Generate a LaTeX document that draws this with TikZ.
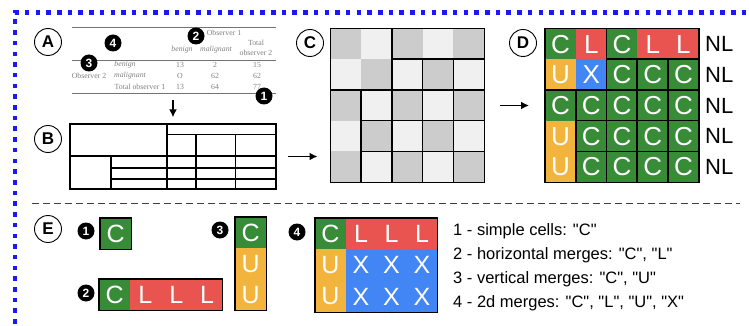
\documentclass[tikz,border=0pt]{standalone}
\usepackage{fontspec}
\setmainfont{Liberation Serif}
\setsansfont{Liberation Sans}
\newfontfamily\legendfont{Liberation Sans}
\usetikzlibrary{positioning,arrows.meta,calc}
\tikzset{>={Latex[length=8pt,width=8pt]}}

\definecolor{cgreen}{RGB}{57,140,55}
\definecolor{cred}{RGB}{234,84,80}
\definecolor{cyellow}{RGB}{243,180,61}
\definecolor{cblue}{RGB}{66,133,244}
\definecolor{framecol}{RGB}{25,25,245}
\colorlet{colC}{cgreen}
\colorlet{colL}{cred}
\colorlet{colU}{cyellow}
\colorlet{colX}{cblue}

\tikzset{
  panel/.style={circle, draw, line width=0.9pt, inner sep=0pt, minimum size=27pt,
    font=\sffamily\bfseries\fontsize{17}{17}\selectfont},
  num/.style={circle, fill=black, text=white, inner sep=0pt, minimum size=17pt,
    font=\sffamily\bfseries\fontsize{12}{12}\selectfont},
  paint/.style={fill=#1, draw=#1},
  dcell/.style={anchor=north west, minimum size=30.72pt, inner sep=0pt, line width=0.4pt,
    text=white, font=\sffamily\fontsize{26}{26}\selectfont},
  ecell/.style={dcell, minimum size=31pt, font=\sffamily\fontsize{25}{25}\selectfont},
  gridline/.style={line width=1.6pt},
  boxline/.style={line width=1.2pt},
  tabtxt/.style={text=black!50, inner sep=0pt, font=\fontsize{7.8}{10}\selectfont},
  tabit/.style={tabtxt, font=\fontsize{7.8}{10}\selectfont\itshape},
  nl/.style={inner sep=0pt, font=\sffamily\fontsize{22}{22}\selectfont},
  legend/.style={anchor=base west, inner sep=0pt, font=\legendfont\fontsize{16.5}{16.5}\selectfont},
  flow/.style={->, line width=1.8pt},
}

% borders of the merged cells, same for grid C and grid D
\newcommand\mergelines[1]{
  \draw[gridline] (#1-0-2.north west) -- (#1-4-2.south west)
    (#1-1-2.north west) -- (#1-1-4.north east)
    (#1-1-3.north west) -- (#1-4-3.south west)
    (#1-1-4.north west) -- (#1-4-4.south west)
    (#1-2-0.north west) -- (#1-2-4.north east)
    (#1-2-1.north west) -- (#1-4-1.south west)
    (#1-3-1.north west) -- (#1-3-4.north east)
    (#1-4-1.north west) -- (#1-4-4.north east);
  \draw[gridline] (#1-0-0.north west) rectangle (#1-4-4.south east);
}

\begin{document}
\begin{tikzpicture}[x=1pt, y=-1pt]
\useasboundingbox (0,0) rectangle (749,326);
\draw[framecol, line width=4.5pt, dash pattern=on 4.5pt off 6.2pt] (15,345) -- (15,12.5) -- (765,12.5); %frame

% A: the source table
\node[panel] (labA) at (48,42) {A};
\node (tabA) [minimum width=204pt, minimum height=65pt, inner sep=0pt] at (174,60.5) {};
\draw[black!55, line width=1.2pt] (tabA.north west) -- (tabA.north east)
  (tabA.west) -- (tabA.east)
  (tabA.south west) -- (tabA.south east);
\node[tabtxt] (obs1) at (224,33) {Observer 1};
\node[tabit] (hben) at (182,50) {benign};
\node[tabit] (hmal) at (216,50) {malignant};
\node[tabtxt, align=center] (htot) at (256,48) {Total\\observer 2};
\node[tabit] (r1lab) at (125,65) {benign};
\node[tabtxt] (obs2) at (89,76) {Observer 2};
\node[tabit] (r2lab) at (130,76) {malignant};
\node[tabtxt] (r3lab) at (140,87) {Total observer 1};
\foreach \a/\b/\c [count=\r] in {13/2/15, O/62/62, 13/64/77} {
  \node[tabtxt] (v-\r-1) at (180,54+11*\r) {\a};
  \node[tabtxt] (v-\r-2) at (215,54+11*\r) {\b};
  \node[tabtxt] (v-\r-3) at (257,54+11*\r) {\c};
}
\node[num] (n2) at (196,36) {2};
\node[num] (n4) at (113,43) {4};
\node[num] (n3) at (89,63) {3};
\node[num] (n1) at (264,96) {1};

% B: the table structure
\node[panel] (labB) at (48,139) {B};
\node (tabB) [draw, line width=1.3pt, minimum width=206pt, minimum height=65pt, inner sep=0pt] at (173,156.5) {};
\draw[line width=1.3pt] (167,124) -- (167,189)
  (70,156) -- (276,156)
  (167,134.5) -- (276,134.5)
  (196,134.5) -- (196,189)
  (235.5,134.5) -- (235.5,189)
  (111,156) -- (111,189)
  (111,168) -- (276,168)
  (111,179) -- (276,179);
\draw[flow, shorten <=7pt, shorten >=6pt] (tabA.south -| tabB.north) -- (tabB.north);

% C: the grid
\node[panel] (labC) at (310,43) {C};
\node (gridC) [minimum size=153.6pt, inner sep=0pt] at (407.5,105.5) {};
\foreach \i in {0,...,4} \foreach \j in {0,...,4} {
  \pgfmathtruncatemacro\tone{mod(\i+\j,2)==0 ? 20 : 6}
  \node[dcell, paint=black!\tone] (c-\i-\j) at ($(gridC.north west)+(\j*30.72,\i*30.72)$) {};
}
\mergelines{c}
\draw[flow, shorten <=11pt, shorten >=13pt] (tabB.east) -- (tabB.east -| gridC.west);

% D: the labelled grid
\node[panel] (labD) at (523,43) {D};
\node (gridD) [minimum size=153.6pt, inner sep=0pt] at (622,105.5) {};
\foreach \row [count=\i from 0] in {{C,L,C,L,L},{U,X,C,C,C},{C,C,C,C,C},{U,C,C,C,C},{U,C,C,C,C}} {
  \foreach \l [count=\j from 0] in \row
    \node[dcell, paint=col\l] (d-\i-\j) at ($(gridD.north west)+(\j*30.72,\i*30.72)$) {\l};
  \node[nl, right=6pt of d-\i-4] (nl-\i) {NL};
}
\mergelines{d}
\draw[flow, shorten <=15pt, shorten >=16pt] (gridC.east) -- (gridD.west);

\coordinate (sepL) at (32,203);
\coordinate (sepR) at (740,203);
\draw[black!75, line width=0.9pt, dash pattern=on 6.5pt off 4.5pt] (sepL) -- (sepR);

% E: the four kinds of merges
\node[panel] (labE) at (48,229) {E};
\node[num] (m1) at (86,231) {1};
\node[ecell, paint=colC] (e1) at (100,218) {C};
\draw[boxline] (e1.north west) rectangle (e1.south east);

\node[num] (m2) at (86,293) {2};
\foreach \l [count=\j from 0] in {C,L,L,L}
  \node[ecell, paint=col\l, minimum width=30.8pt] (e2-\j) at (99+\j*30.8,279) {\l};
\draw[boxline] (e2-0.north west) rectangle (e2-3.south east);

\node[num] (m3) at (220,230) {3};
\foreach \l [count=\i from 0] in {C,U,U}
  \node[ecell, paint=col\l] (e3-\i) at (235,217+\i*31) {\l};
\draw[boxline] (e3-0.north west) rectangle (e3-2.south east);

\node[num] (m4) at (297,232) {4};
\foreach \row [count=\i from 0] in {{C,L,L,L},{U,X,X,X},{U,X,X,X}}
  \foreach \l [count=\j from 0] in \row
    \node[ecell, paint=col\l, minimum width=30.5pt, minimum height=31.3pt] (e4-\i-\j) at (315+\j*30.5,218+\i*31.3) {\l};
\draw[boxline] (e4-0-0.north west) rectangle (e4-2-3.south east);

\node[legend] (leg1) at (453,235) {1 - simple cells: "C"};
\node[legend] (leg2) at (453,259) {2 - horizontal merges: "C", "L"};
\node[legend] (leg3) at (453,283) {3 - vertical merges: "C", "U"};
\node[legend] (leg4) at (453,307) {4 - 2d merges: "C", "L", "U", "X"};
\end{tikzpicture}
\end{document}
